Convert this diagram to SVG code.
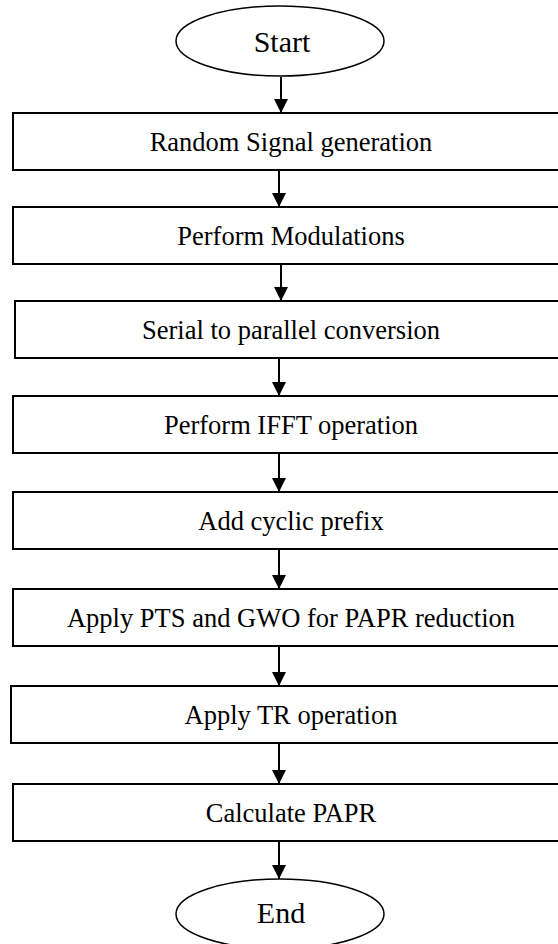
<svg xmlns="http://www.w3.org/2000/svg" width="558" height="944" viewBox="0 0 558 944">
<style>
.box{fill:#fff;stroke:#000;stroke-width:2}
.term{fill:#fff;stroke:#000;stroke-width:1.5}
.lbl{font-family:"Liberation Serif","Times New Roman",serif;font-size:26.5px;fill:#000;text-anchor:middle}
.big{font-size:30px}
.conn{stroke:#000;stroke-width:2;fill:none}
</style>
<defs>
<marker id="ah" markerWidth="14" markerHeight="14" refX="14" refY="7" orient="auto" markerUnits="userSpaceOnUse">
<path d="M0,0 L14,7 L0,14 Z" fill="#000"/>
</marker>
</defs>
<rect width="558" height="944" fill="#fff"/>
<g id="connectors">
<line class="conn" x1="281" y1="77" x2="281" y2="113" marker-end="url(#ah)"/>
<line class="conn" x1="279" y1="171" x2="279" y2="207" marker-end="url(#ah)"/>
<line class="conn" x1="281" y1="264" x2="281" y2="301" marker-end="url(#ah)"/>
<line class="conn" x1="279" y1="358" x2="279" y2="396" marker-end="url(#ah)"/>
<line class="conn" x1="279" y1="453" x2="279" y2="492" marker-end="url(#ah)"/>
<line class="conn" x1="279" y1="549" x2="279" y2="589" marker-end="url(#ah)"/>
<line class="conn" x1="279" y1="646" x2="279" y2="686" marker-end="url(#ah)"/>
<line class="conn" x1="279" y1="743" x2="279" y2="784" marker-end="url(#ah)"/>
<line class="conn" x1="279" y1="841" x2="279" y2="879" marker-end="url(#ah)"/>
</g>
<g id="start"><ellipse class="term" cx="280" cy="41" rx="104" ry="35"/><text class="lbl big" x="282" y="52">Start</text></g>
<g id="n1"><rect class="box" x="13" y="113" width="560" height="57"/><text class="lbl" x="291" y="151">Random Signal generation</text></g>
<g id="n2"><rect class="box" x="13" y="207" width="560" height="57"/><text class="lbl" x="291" y="245">Perform Modulations</text></g>
<g id="n3"><rect class="box" x="15" y="301" width="560" height="57"/><text class="lbl" x="291" y="339">Serial to parallel conversion</text></g>
<g id="n4"><rect class="box" x="13" y="396" width="560" height="57"/><text class="lbl" x="291" y="434">Perform IFFT operation</text></g>
<g id="n5"><rect class="box" x="13" y="492" width="560" height="57"/><text class="lbl" x="291" y="530">Add cyclic prefix</text></g>
<g id="n6"><rect class="box" x="13" y="589" width="560" height="57"/><text class="lbl" x="291" y="627">Apply PTS and GWO for PAPR reduction</text></g>
<g id="n7"><rect class="box" x="11" y="686" width="560" height="57"/><text class="lbl" x="291" y="724">Apply TR operation</text></g>
<g id="n8"><rect class="box" x="13" y="784" width="560" height="57"/><text class="lbl" x="291" y="822">Calculate PAPR</text></g>
<g id="end"><ellipse class="term" cx="280" cy="914" rx="104" ry="35"/><text class="lbl big" x="281" y="923">End</text></g>
</svg>
